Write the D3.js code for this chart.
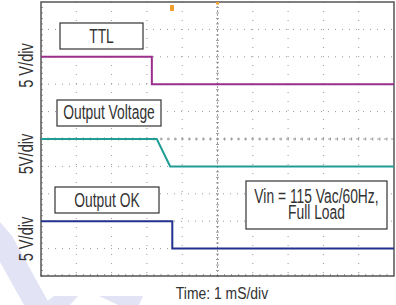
<!DOCTYPE html>
<html>
<head>
<meta charset="utf-8">
<script src="https://cdn.jsdelivr.net/npm/d3@7"></script>
<style>
  body { margin: 0; background: #fff; }
  svg { display: block; }
  text { font-family: "Liberation Sans", Arial, sans-serif; fill: #333; }
</style>
</head>
<body>
<div id="chart"></div>
<script>
// scope divisions (10 x 10)
var xDivs = d3.range(0, 11);
var yDivs = d3.range(0, 11);

// traces: time in divisions (1 mS/div), level in divisions from bottom
var ttlTime = [0, 3.14, 3.14, 10];
var ttlLevel = [8, 8, 7, 7];
var voutTime = [0, 3.28, 3.66, 10];
var voutLevel = [5, 5, 4, 4];
var okTime = [0, 3.72, 3.72, 10];
var okLevel = [2, 2, 1, 1];

var traceNames = ["TTL", "Output Voltage", "Output OK"];
var traceColors = ["#9a2f8e", "#1f9c94", "#22308e"];
var axisLabels = ["5 V/div", "5V/div", "5 V/div"];
var xLabel = "Time: 1 mS/div";
var noteLines = ["Vin = 115 Vac/60Hz,", "Full Load"];

var width = 396, height = 305;
var plot = { left: 41, top: 2, right: 394, bottom: 276 };

var svg = d3.select("#chart").append("svg")
  .attr("width", width)
  .attr("height", height);

// faint watermark in the corner
var wm = svg.append("g").attr("fill", "#e3e3f6");
[
  [[0, 222], [12, 236], [50, 305], [24, 305], [0, 262]],
  [[42, 305], [54, 296], [78, 296], [70, 305]],
  [[99, 296], [143, 296], [139, 305], [118, 305]]
].forEach(function(p) {
  wm.append("path").attr("d", "M" + p.join("L") + "Z");
});

var x = d3.scaleLinear().domain([0, 10]).range([plot.left, plot.right]);
var y = d3.scaleLinear().domain([0, 10]).range([plot.bottom, plot.top]);

svg.append("rect")
  .attr("x", plot.left).attr("y", plot.top)
  .attr("width", plot.right - plot.left).attr("height", plot.bottom - plot.top)
  .attr("fill", "#fff");

// graticule
var grid = svg.append("g").attr("stroke", "#9a9a9a").attr("stroke-width", 1);
grid.selectAll(".vg")
  .data(xDivs.filter(function(d) { return d > 0 && d < 10 && d !== 5; }))
  .enter().append("line")
  .attr("x1", function(d) { return x(d); }).attr("x2", function(d) { return x(d); })
  .attr("y1", plot.top).attr("y2", plot.bottom)
  .attr("stroke-dasharray", "1,8");
grid.selectAll(".hg")
  .data(yDivs.filter(function(d) { return d > 0 && d < 10 && d !== 5; }))
  .enter().append("line")
  .attr("y1", function(d) { return y(d); }).attr("y2", function(d) { return y(d); })
  .attr("x1", plot.left).attr("x2", plot.right)
  .attr("stroke-dasharray", "1,6");

// centre lines with minor ticks
grid.append("line")
  .attr("x1", x(5)).attr("x2", x(5)).attr("y1", plot.top).attr("y2", plot.bottom)
  .attr("stroke-dasharray", "2,2");
grid.append("line")
  .attr("y1", y(5)).attr("y2", y(5)).attr("x1", plot.left).attr("x2", plot.right)
  .attr("stroke-dasharray", "3,4");
var minorX = d3.range(0, 50).map(function(i) { return i / 5; });
var minorY = d3.range(0, 50).map(function(i) { return i / 5; });
grid.selectAll(".cx").data(minorX).enter().append("line")
  .attr("x1", function(d) { return x(d); }).attr("x2", function(d) { return x(d); })
  .attr("y1", y(5) - 1.5).attr("y2", y(5) + 1.5);
grid.selectAll(".cy").data(minorY).enter().append("line")
  .attr("y1", function(d) { return y(d); }).attr("y2", function(d) { return y(d); })
  .attr("x1", x(5) - 1.5).attr("x2", x(5) + 1.5);

// frame ticks
grid.selectAll(".bx").data(minorX).enter().append("line")
  .attr("x1", function(d) { return x(d); }).attr("x2", function(d) { return x(d); })
  .attr("y1", plot.bottom - 2).attr("y2", plot.bottom);
grid.selectAll(".ly").data(minorY).enter().append("line")
  .attr("y1", function(d) { return y(d); }).attr("y2", function(d) { return y(d); })
  .attr("x1", plot.left).attr("x2", plot.left + 2);

svg.append("rect")
  .attr("x", plot.left).attr("y", plot.top)
  .attr("width", plot.right - plot.left).attr("height", plot.bottom - plot.top)
  .attr("fill", "none").attr("stroke", "#555").attr("stroke-width", 1.5);

// traces
var line = d3.line()
  .x(function(d) { return x(d[0]); })
  .y(function(d) { return y(d[1]); });
var traces = [
  d3.zip(ttlTime, ttlLevel),
  d3.zip(voutTime, voutLevel),
  d3.zip(okTime, okLevel)
];
svg.selectAll(".trace").data(traces).enter().append("path")
  .attr("class", "trace")
  .attr("d", line)
  .attr("fill", "none")
  .attr("stroke", function(d, i) { return traceColors[i]; })
  .attr("stroke-width", 2);

// trigger markers
svg.append("rect").attr("x", 170).attr("y", 5).attr("width", 4).attr("height", 6).attr("fill", "#f0a030");
svg.append("rect").attr("x", x(5) - 1.5).attr("y", plot.top).attr("width", 3).attr("height", 2.5).attr("fill", "#f0a030");

// condensed lettering, like the original
function label(parent, tx, ty, rot, size, sx, t) {
  parent.append("text")
    .attr("transform", "translate(" + tx + "," + ty + ") rotate(" + rot + ") scale(" + sx + ",1)")
    .attr("text-anchor", "middle")
    .attr("font-size", size)
    .text(t);
}

// label boxes
function box(cx, cy, w, h, lines, base, step) {
  var g = svg.append("g");
  g.append("rect")
    .attr("x", cx - w / 2).attr("y", cy - h / 2).attr("width", w).attr("height", h)
    .attr("fill", "#fff").attr("stroke", "#333").attr("stroke-width", 1.2);
  lines.forEach(function(t, i) {
    label(g, cx, cy + base + i * step, 0, 19.5, 0.71, t);
  });
}
box(101.5, 36, 83, 26, [traceNames[0]], 6.5, 0);
box(109, 113, 104, 26, [traceNames[1]], 6, 0);
box(107, 200, 104, 26, [traceNames[2]], 6.5, 0);
box(316.5, 205, 141, 48, noteLines, -2.5, 16);

// y labels
[65.5, 154, 239].forEach(function(cy, i) {
  label(svg, 33, cy, -90, 20, 0.73, axisLabels[i]);
});

label(svg, 222, 299, 0, 17, 0.82, xLabel);
</script>
</body>
</html>
